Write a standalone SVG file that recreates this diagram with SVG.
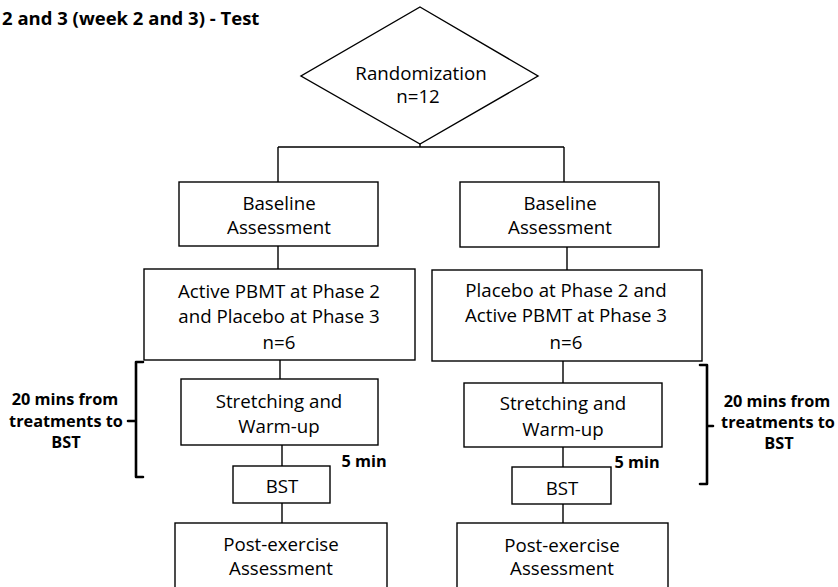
<svg xmlns="http://www.w3.org/2000/svg" width="838" height="587" viewBox="0 0 838 587">
<style>
  .box { fill: #fff; stroke: #000; stroke-width: 1.4; }
  .lbl { font-family: "Open Sans", "Liberation Sans", sans-serif; font-size: 18.7px; fill: #000; text-anchor: middle; }
  .bold { font-family: "Open Sans", "Liberation Sans", sans-serif; font-weight: bold; font-size: 16.3px; fill: #000; text-anchor: middle; }
  .title { font-family: "Open Sans", "Liberation Sans", sans-serif; font-weight: bold; font-size: 18.5px; fill: #000; }
  .conn { fill: none; stroke: #000; stroke-width: 1.4; }
  .brace { fill: none; stroke: #000; stroke-width: 2.6; stroke-linejoin: round; stroke-linecap: round; }
</style>
<rect width="838" height="587" fill="#fff"/>
<text class="title" x="2" y="25">2 and 3 (week 2 and 3) - Test</text>

<g id="connectors">
  <path class="conn" d="M420,144 V147 M278,147 H564 M278,147 V182 M564,147 V182"/>
  <path class="conn" d="M278,246 V269 M567,247 V270"/>
  <path class="conn" d="M280,360 V379 M563,361 V383"/>
  <path class="conn" d="M282,445 V466 M563,447 V467"/>
  <path class="conn" d="M282,503 V523 M563,504 V523"/>
</g>

<g id="randomization">
  <polygon class="box" points="420,7 538,76 420,144 301,76"/>
  <text class="lbl" x="421" y="80">Randomization</text>
  <text class="lbl" x="418" y="103">n=12</text>
</g>

<g id="baseline-left">
  <rect class="box" x="179" y="182" width="199" height="64"/>
  <text class="lbl" x="279" y="210">Baseline</text>
  <text class="lbl" x="279" y="234">Assessment</text>
</g>
<g id="baseline-right">
  <rect class="box" x="460" y="182" width="199" height="65"/>
  <text class="lbl" x="560" y="210">Baseline</text>
  <text class="lbl" x="560" y="234">Assessment</text>
</g>

<g id="treatment-left">
  <rect class="box" x="144" y="269" width="271" height="91"/>
  <text class="lbl" x="279" y="298">Active PBMT at Phase 2</text>
  <text class="lbl" x="279" y="323">and Placebo at Phase 3</text>
  <text class="lbl" x="279" y="349">n=6</text>
</g>
<g id="treatment-right">
  <rect class="box" x="432" y="270" width="270" height="91"/>
  <text class="lbl" x="566" y="297">Placebo at Phase 2 and</text>
  <text class="lbl" x="566" y="322">Active PBMT at Phase 3</text>
  <text class="lbl" x="566" y="349">n=6</text>
</g>

<g id="stretching-left">
  <rect class="box" x="181" y="379" width="197" height="66"/>
  <text class="lbl" x="279" y="408">Stretching and</text>
  <text class="lbl" x="279" y="433">Warm-up</text>
</g>
<g id="stretching-right">
  <rect class="box" x="464" y="383" width="198" height="64"/>
  <text class="lbl" x="563" y="410">Stretching and</text>
  <text class="lbl" x="563" y="436">Warm-up</text>
</g>

<g id="bst-left">
  <rect class="box" x="233" y="466" width="97" height="37"/>
  <text class="lbl" x="282" y="493">BST</text>
</g>
<g id="bst-right">
  <rect class="box" x="512" y="467" width="99" height="37"/>
  <text class="lbl" x="562" y="495">BST</text>
</g>

<g id="post-left">
  <rect class="box" x="175" y="523" width="212" height="80"/>
  <text class="lbl" x="281" y="551">Post-exercise</text>
  <text class="lbl" x="281" y="575">Assessment</text>
</g>
<g id="post-right">
  <rect class="box" x="457" y="523" width="211" height="80"/>
  <text class="lbl" x="562" y="552">Post-exercise</text>
  <text class="lbl" x="562" y="575">Assessment</text>
</g>

<g id="five-min-left">
  <text class="bold" x="364" y="467">5 min</text>
</g>
<g id="five-min-right">
  <text class="bold" x="637" y="468">5 min</text>
</g>

<g id="interval-left">
  <path class="brace" d="M143,362 H136 V421 H128 M136,421 V477 H143"/>
  <text class="bold" x="65" y="405">20 mins from</text>
  <text class="bold" x="66" y="427">treatments to</text>
  <text class="bold" x="66" y="448">BST</text>
</g>
<g id="interval-right">
  <path class="brace" d="M700,365 H707 V426 H713 M707,426 V484 H700"/>
  <text class="bold" x="777" y="407">20 mins from</text>
  <text class="bold" x="778" y="428">treatments to</text>
  <text class="bold" x="779" y="449">BST</text>
</g>
</svg>
